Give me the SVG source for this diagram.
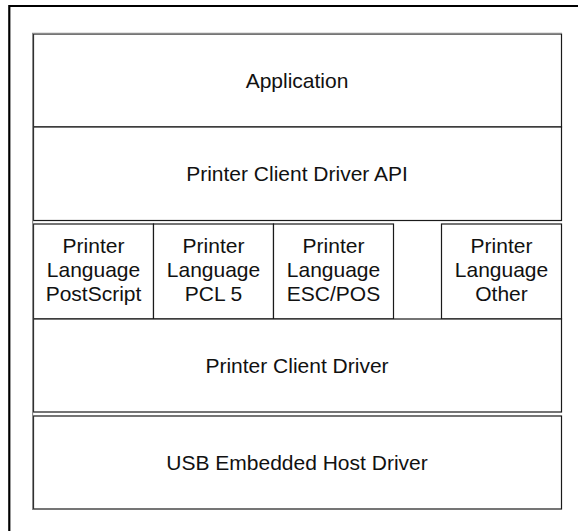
<svg xmlns="http://www.w3.org/2000/svg" width="578" height="531" viewBox="0 0 578 531">
<style>
.box{fill:#fff;stroke:#1a1a1a;stroke-width:1.2}
.t{font-family:"Liberation Sans",Arial,sans-serif;font-size:21px;fill:#111;text-anchor:middle}
.frame{stroke:#000;stroke-width:2.2;fill:none}
.shade{stroke:#8a8a8a;stroke-width:1.2;fill:none}
</style>
<rect width="578" height="531" fill="#fff"/>
<g id="frame">
<path class="frame" d="M9.3,531 V6 H578"/>
</g>
<g id="application">
<rect class="box" x="33.5" y="34" width="528" height="93"/>
<text class="t" x="297" y="88">Application</text>
</g>
<g id="api">
<rect class="box" x="33.5" y="127" width="528" height="93.5"/>
<text class="t" x="297" y="181">Printer Client Driver API</text>
</g>
<g id="lang-postscript">
<rect class="box" x="33.5" y="224" width="120" height="95"/>
<text class="t" x="93.5" y="253">Printer</text>
<text class="t" x="93.5" y="277">Language</text>
<text class="t" x="93.5" y="301">PostScript</text>
</g>
<g id="lang-pcl5">
<rect class="box" x="153.5" y="224" width="120" height="95"/>
<text class="t" x="213.5" y="253">Printer</text>
<text class="t" x="213.5" y="277">Language</text>
<text class="t" x="213.5" y="301">PCL 5</text>
</g>
<g id="lang-escpos">
<rect class="box" x="273.5" y="224" width="120" height="95"/>
<text class="t" x="333.5" y="253">Printer</text>
<text class="t" x="333.5" y="277">Language</text>
<text class="t" x="333.5" y="301">ESC/POS</text>
</g>
<g id="lang-other">
<rect class="box" x="441.5" y="224" width="120" height="95"/>
<text class="t" x="501.5" y="253">Printer</text>
<text class="t" x="501.5" y="277">Language</text>
<text class="t" x="501.5" y="301">Other</text>
</g>
<g id="client-driver">
<rect class="box" x="33.5" y="319" width="528" height="93"/>
<text class="t" x="297" y="373">Printer Client Driver</text>
</g>
<g id="usb-host-driver">
<rect class="box" x="33.5" y="416" width="528" height="93"/>
<text class="t" x="297" y="470">USB Embedded Host Driver</text>
</g>
<g id="stack-shade">
<path class="shade" d="M32.6,510 V33.4 H562"/>
</g>
<g id="connectors"></g>
</svg>
